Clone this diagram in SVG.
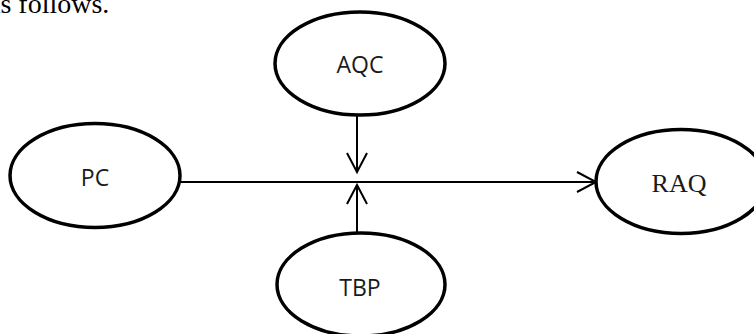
<svg xmlns="http://www.w3.org/2000/svg" width="754" height="334" viewBox="0 0 754 334">
<style>
.node{fill:#fff;stroke:#000;stroke-width:3.5}
.lbl{font-family:"Open Sans","Noto Sans",sans-serif;font-size:23px;fill:#1a1a1a;text-anchor:middle}
.lbls{font-family:"Liberation Serif","Times New Roman",serif;font-size:26px;fill:#1a1a1a;text-anchor:middle}
.edge{stroke:#000;stroke-width:2;fill:none}
.head{stroke:#000;stroke-width:2;fill:none;stroke-linejoin:miter}
</style>
<rect width="754" height="334" fill="#fff"/>
<text x="-12" y="12.5" font-family="Liberation Serif, Times New Roman, serif" font-size="28" fill="#000">as follows.</text>
<g id="connectors">
<line class="edge" x1="180" y1="182" x2="595" y2="182"/>
<polyline class="head" points="577,172 596,182 577,192"/>
<line class="edge" x1="357" y1="115" x2="357" y2="171"/>
<polyline class="head" points="347,153 357,172 367,153"/>
<line class="edge" x1="357" y1="233" x2="357" y2="186"/>
<polyline class="head" points="347,204 357,185 367,204"/>
</g>
<g id="AQC">
<ellipse class="node" cx="360" cy="63.5" rx="85" ry="51.5"/>
<text class="lbl" x="360" y="73">AQC</text>
</g>
<g id="PC">
<ellipse class="node" cx="95" cy="175.5" rx="85" ry="52"/>
<text class="lbl" x="95" y="186">PC</text>
</g>
<g id="RAQ">
<ellipse class="node" cx="681" cy="181.5" rx="85" ry="52"/>
<text class="lbls" x="679" y="192">RAQ</text>
</g>
<g id="TBP">
<ellipse class="node" cx="361" cy="284.5" rx="84" ry="51.5"/>
<text class="lbl" x="360" y="296">TBP</text>
</g>
</svg>
